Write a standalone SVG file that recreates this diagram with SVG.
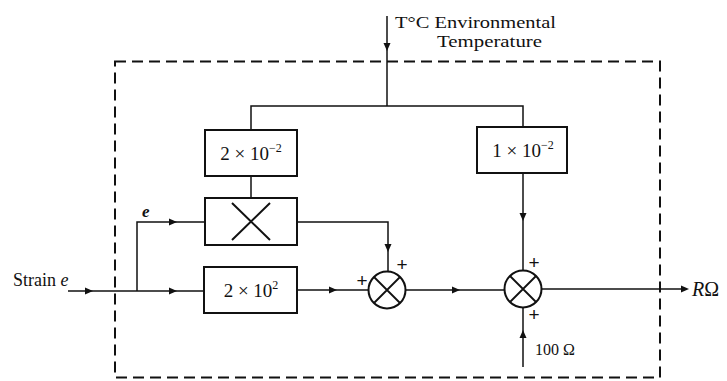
<svg xmlns="http://www.w3.org/2000/svg" width="727" height="381" viewBox="0 0 727 381">
<style>
.ln{fill:none;stroke:#111;stroke-width:1.5}
.bx{fill:#fff;stroke:#111;stroke-width:2}
.ah{fill:#111;stroke:none}
.t{font-family:"Liberation Serif","Times New Roman",serif;fill:#111}
.pl{font-family:"Liberation Sans",Arial,sans-serif;fill:#111;font-size:19px;text-anchor:middle}
.sup{font-size:12px}
.dash{fill:none;stroke:#111;stroke-width:2;stroke-dasharray:11,6}
</style>
<defs>
<path id="ar" d="M4,0 L-4,-3.5 L-4,3.5 Z"/>
</defs>
<rect class="dash" x="115" y="61.5" width="545" height="316"/>
<g id="connectors">
<path class="ln" d="M387,16 V106"/>
<path class="ln" d="M251,130 V106 H523 V127"/>
<path class="ln" d="M251,176 V198"/>
<path class="ln" d="M68,291 H204"/>
<path class="ln" d="M137,291 V222 H205"/>
<path class="ln" d="M297,222 H388 V271.5"/>
<path class="ln" d="M297,290 H368.5"/>
<path class="ln" d="M405.5,290 H504.5"/>
<path class="ln" d="M523,173 V270.5"/>
<path class="ln" d="M523,367 V307.5"/>
<path class="ln" d="M541.5,289 H683"/>
<use href="#ar" class="ah" transform="translate(387,47) rotate(90)"/>
<use href="#ar" class="ah" transform="translate(89,291)"/>
<use href="#ar" class="ah" transform="translate(173,291)"/>
<use href="#ar" class="ah" transform="translate(173,222)"/>
<use href="#ar" class="ah" transform="translate(333,290)"/>
<use href="#ar" class="ah" transform="translate(456,290)"/>
<use href="#ar" class="ah" transform="translate(388,248) rotate(90)"/>
<use href="#ar" class="ah" transform="translate(523,217) rotate(90)"/>
<use href="#ar" class="ah" transform="translate(523,334) rotate(-90)"/>
<use href="#ar" class="ah" transform="translate(685,289)"/>
</g>
<g id="temp-label">
<text class="t" x="395" y="28" font-size="17" textLength="161" lengthAdjust="spacingAndGlyphs">T°C Environmental</text>
<text class="t" x="437" y="47" font-size="17" textLength="105" lengthAdjust="spacingAndGlyphs">Temperature</text>
</g>
<g id="gain-2e-2">
<rect class="bx" x="205" y="130" width="92" height="46"/>
<text class="t" x="251" y="160" font-size="19" text-anchor="middle">2 × 10<tspan class="sup" dy="-8">−2</tspan></text>
</g>
<g id="gain-1e-2">
<rect class="bx" x="477" y="127" width="90" height="46"/>
<text class="t" x="523" y="157" font-size="19" text-anchor="middle">1 × 10<tspan class="sup" dy="-8">−2</tspan></text>
</g>
<g id="multiplier">
<rect class="bx" x="205" y="198" width="92" height="47"/>
<path class="ln" d="M232,203 L270,240 M270,203 L232,240" style="stroke-width:2"/>
</g>
<g id="gain-2e2">
<rect class="bx" x="204" y="267" width="93" height="46"/>
<text class="t" x="251" y="297" font-size="19" text-anchor="middle">2 × 10<tspan class="sup" dy="-8">2</tspan></text>
</g>
<g id="sum1">
<circle class="bx" cx="387" cy="290" r="18.5"/>
<path class="ln" d="M374,277 L400,303 M400,277 L374,303" style="stroke-width:1.8"/>
<text class="pl" x="362" y="287">+</text>
<text class="pl" x="402" y="271">+</text>
</g>
<g id="sum2">
<circle class="bx" cx="523" cy="289" r="18.5"/>
<path class="ln" d="M510,276 L536,302 M536,276 L510,302" style="stroke-width:1.8"/>
<text class="pl" x="534" y="269">+</text>
<text class="pl" x="534" y="321">+</text>
</g>
<g id="labels">
<text class="t" x="13" y="286" font-size="18">Strain<tspan font-style="italic"> e</tspan></text>
<text class="t" x="142" y="217" font-size="17" font-style="italic" font-weight="bold">e</text>
<text class="t" x="535" y="355" font-size="16">100 Ω</text>
<text class="t" x="692" y="296" font-size="20"><tspan font-style="italic">R</tspan>Ω</text>
</g>
</svg>
